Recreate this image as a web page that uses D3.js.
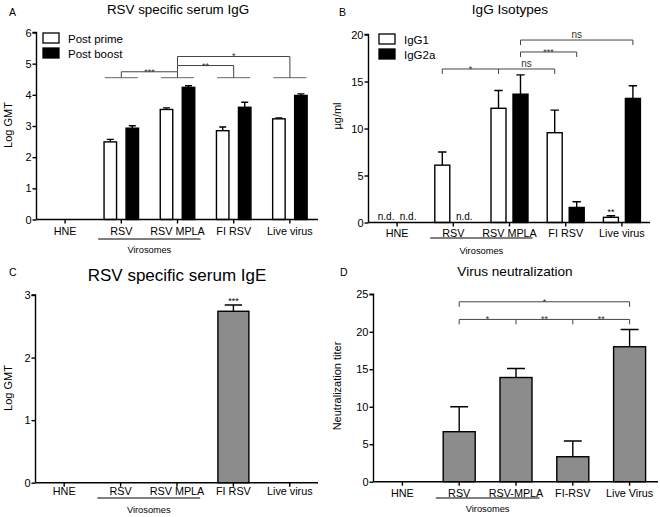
<!DOCTYPE html>
<html>
<head>
<meta charset="utf-8">
<script src="https://cdn.jsdelivr.net/npm/d3@7"></script>
<style>
  body { margin: 0; background: #fff; }
  svg { display: block; font-family: Arial, "Liberation Sans", sans-serif; }
  .domain, .tick line { stroke: #000; stroke-width: 1.4; }
</style>
</head>
<body>
<div id="vis"></div>
<script>
// data
const groups = ["HNE", "RSV", "RSV MPLA", "FI RSV", "Live virus"];
const groupsD = ["HNE", "RSV", "RSV-MPLA", "FI-RSV", "Live Virus"];

// A: log GMT of RSV specific IgG
const postPrime = [0, 2.49, 3.53, 2.85, 3.23];
const postPrimeErr = [0, 0.08, 0.05, 0.12, 0.03];
const postBoost = [0, 2.93, 4.24, 3.6, 3.98];
const postBoostErr = [0, 0.08, 0.05, 0.16, 0.05];

// B: IgG isotypes (ug/ml)
const igg1 = [0, 6.1, 12.15, 9.55, 0.55];
const igg1Err = [0, 1.4, 1.9, 2.4, 0.17];
const igg2a = [0, 0, 13.65, 1.6, 13.2];
const igg2aErr = [0, 0, 2.05, 0.6, 1.35];
const igg1Nd = [true, false, false, false, false];
const igg2aNd = [true, true, false, false, false];

// C: log GMT of IgE
const ige = [0, 0, 0, 2.74, 0];
const igeErr = [0, 0, 0, 0.1, 0];

// D: neutralization titer
const neut = [0, 6.67, 13.9, 3.33, 18.0];
const neutErr = [0, 3.33, 1.2, 2.1, 2.3];

const svg = d3.select("#vis").append("svg")
    .attr("width", 660)
    .attr("height", 517);

function panel(p) {
    const g = svg.append("g");
    const x = d3.scaleBand().domain(p.cats).range([p.x0, p.x1]);
    const y = d3.scaleLinear().domain([0, p.ymax]).range([p.yb, p.yt]);

    // sub-band for grouped bars (centres 22px apart)
    const sub = d3.scaleBand()
        .domain(d3.range(p.series.length))
        .range(p.series.length > 1
            ? [x.bandwidth() / 2 - 11 - p.bw / 2, x.bandwidth() / 2 + 11 + p.bw / 2]
            : [x.bandwidth() / 2 - p.bw / 2, x.bandwidth() / 2 + p.bw / 2])
        .paddingInner(p.series.length > 1 ? (22 - p.bw) / 22 : 0);

    p.series.forEach((s, si) => {
        const cx = (i) => x(p.cats[i]) + sub(si) + sub.bandwidth() / 2;
        // error bars
        g.append("g").selectAll("path")
            .data(s.values.map((v, i) => ({ v, e: s.err[i], i })).filter(d => d.v > 0))
            .join("path")
            .attr("d", d => {
                const c = cx(d.i), hw = sub.bandwidth() * 0.28;
                return `M${c},${y(d.v)}V${y(d.v + d.e)}M${c - hw},${y(d.v + d.e)}H${c + hw}`;
            })
            .attr("stroke", "#000")
            .attr("stroke-width", 1.4)
            .attr("fill", "none");
        g.append("g").selectAll("rect")
            .data(s.values.map((v, i) => ({ v, i })).filter(d => d.v > 0))
            .join("rect")
            .attr("x", d => x(p.cats[d.i]) + sub(si))
            .attr("y", d => y(d.v))
            .attr("width", sub.bandwidth())
            .attr("height", d => y(0) - y(d.v))
            .attr("fill", s.fill)
            .attr("stroke", "#000")
            .attr("stroke-width", 1.4);
        if (s.nd) {
            g.append("g").selectAll("text")
                .data(s.nd.map((v, i) => ({ v, i })).filter(d => d.v))
                .join("text")
                .attr("x", d => cx(d.i))
                .attr("y", p.yb - 3)
                .attr("text-anchor", "middle")
                .attr("font-size", 10)
                .text("n.d.");
        }
    });

    // axes
    g.append("g")
        .attr("transform", `translate(${p.x0 - 0.5},0)`)
        .call(d3.axisLeft(y).tickValues(p.ticks).tickSize(4).tickPadding(1).tickFormat(d3.format("d")))
        .call(a => a.select(".domain").attr("d", `M-4,${p.yt}H0V${p.yb}`))
        .call(a => a.selectAll("text").attr("font-size", 11).attr("fill", "#000"));
    g.append("g")
        .attr("transform", `translate(0,${p.yb})`)
        .call(d3.axisBottom(x).tickSize(4).tickPadding(p.pad))
        .call(a => a.select(".domain").attr("d", `M${p.x0 - 0.5},0H${p.x1}`))
        .call(a => a.selectAll("text").attr("font-size", 10.8).attr("fill", "#000"));

    // virosomes underline
    const vx0 = x(p.cats[1]) + 5, vx1 = x(p.cats[2]) + x.bandwidth() - 5;
    g.append("line")
        .attr("x1", vx0).attr("x2", vx1)
        .attr("y1", p.lineY).attr("y2", p.lineY)
        .attr("stroke", "#000").attr("stroke-width", 1.1);
    g.append("text")
        .attr("x", (vx0 + vx1) / 2)
        .attr("y", p.viroY)
        .attr("text-anchor", "middle")
        .attr("font-size", 9.3)
        .text("Virosomes");

    // titles
    g.append("text")
        .attr("x", p.titleX).attr("y", p.titleY)
        .attr("text-anchor", "middle")
        .attr("font-size", p.titleSize)
        .text(p.title);
    g.append("text")
        .attr("x", p.letterX).attr("y", p.letterY)
        .attr("font-size", 10.5)
        .text(p.letter);
    g.append("text")
        .attr("transform", `translate(${p.ylabX},${p.ylabY}) rotate(-90)`)
        .attr("text-anchor", "middle")
        .attr("font-size", 11)
        .text(p.ylab);

    // legend
    if (p.legend) {
        p.legend.forEach((l, i) => {
            const ly = p.legY + i * 15;
            g.append("rect")
                .attr("x", p.legX).attr("y", ly)
                .attr("width", 16).attr("height", 10)
                .attr("fill", l.fill).attr("stroke", "#000").attr("stroke-width", 1.3);
            g.append("text")
                .attr("x", p.legX + 25).attr("y", ly + 9.5)
                .attr("font-size", 11.5)
                .text(l.label);
        });
    }
    return { g, x, y, sub };
}

function bracketLine(g, d, color) {
    g.append("path").attr("d", d)
        .attr("fill", "none").attr("stroke", color || "#444").attr("stroke-width", 1);
}
function star(g, x, y, t) {
    const ns = t === "ns";
    g.append("text")
        .attr("x", x).attr("y", ns ? y - 2 : y + 3)
        .attr("text-anchor", "middle")
        .attr("font-size", ns ? 10 : 9)
        .attr("fill", "#333")
        .text(t);
}

// ---------- A ----------
const A = panel({
    cats: groups, x0: 37, x1: 318, yb: 219.5, yt: 32.5, ymax: 6, ticks: d3.range(0, 7),
    bw: 12.5, pad: 4, lineY: 239, viroY: 253,
    series: [
        { values: postPrime, err: postPrimeErr, fill: "#fff" },
        { values: postBoost, err: postBoostErr, fill: "#000" }
    ],
    title: "RSV specific serum IgG", titleX: 178, titleY: 14, titleSize: 13.4,
    letter: "A", letterX: 9, letterY: 16,
    ylab: "Log GMT", ylabX: 12, ylabY: 125,
    legend: [{ fill: "#fff", label: "Post prime" }, { fill: "#000", label: "Post boost" }],
    legX: 43, legY: 33
});
{
    const { g, x, y } = A;
    const c = i => x(groups[i]) + x.bandwidth() / 2;
    [1, 2, 3, 4].forEach(i => bracketLine(g, `M${c(i) - 16.5},${y(4.55)}H${c(i) + 16.5}`, "#666"));
    bracketLine(g, `M${c(1)},${y(4.55)}V${y(4.74)}H${c(2)}V${y(4.55)}`);
    star(g, (c(1) + c(2)) / 2, y(4.74), "***");
    bracketLine(g, `M${c(2)},${y(4.74)}V${y(4.94)}H${c(3)}V${y(4.55)}`);
    star(g, (c(2) + c(3)) / 2, y(4.94), "**");
    bracketLine(g, `M${c(2)},${y(4.94)}V${y(5.23)}H${c(4)}V${y(4.55)}`);
    star(g, (c(2) + c(4)) / 2, y(5.23), "*");
}

// ---------- B ----------
const B = panel({
    cats: groups, x0: 369, x1: 650, yb: 222.5, yt: 34.5, ymax: 20, ticks: [0, 5, 10, 15, 20],
    bw: 15, pad: 2.5, lineY: 238, viroY: 254,
    series: [
        { values: igg1, err: igg1Err, fill: "#fff", nd: igg1Nd },
        { values: igg2a, err: igg2aErr, fill: "#000", nd: igg2aNd }
    ],
    title: "IgG Isotypes", titleX: 510, titleY: 14, titleSize: 13.6,
    letter: "B", letterX: 339, letterY: 16,
    ylab: "\u00b5g/ml", ylabX: 341, ylabY: 116,
    legend: [{ fill: "#fff", label: "IgG1" }, { fill: "#000", label: "IgG2a" }],
    legX: 379, legY: 34
});
{
    const { g, x, y, sub } = B;
    const c = (i, s) => x(groups[i]) + sub(s) + sub.bandwidth() / 2;
    const t = 0.53;
    bracketLine(g, `M${c(1, 0)},${y(16.33 - t)}V${y(16.33)}H${c(3, 0)}V${y(16.33 - t)}M${c(2, 0)},${y(16.33)}V${y(16.33 - t)}`);
    star(g, (c(1, 0) + c(2, 0)) / 2, y(16.33), "*");
    star(g, (c(2, 0) + c(3, 0)) / 2, y(16.33), "ns");
    bracketLine(g, `M${c(2, 1)},${y(18.14)}H${c(3, 1)}V${y(18.14 - t)}M${c(2, 1)},${y(18.14)}V${y(18.14 - t)}`);
    star(g, (c(2, 1) + c(3, 1)) / 2, y(18.14), "***");
    bracketLine(g, `M${c(2, 1)},${y(19.41 - t)}V${y(19.41)}H${c(4, 1)}V${y(19.41 - t)}`);
    star(g, (c(2, 1) + c(4, 1)) / 2, y(19.41), "ns");
    // ** above live virus IgG1
    g.append("text")
        .attr("x", c(4, 0)).attr("y", y(igg1[4] + igg1Err[4]) - 1)
        .attr("text-anchor", "middle").attr("font-size", 9).text("**");
}

// ---------- C ----------
const C = panel({
    cats: groups, x0: 36, x1: 318, yb: 482.7, yt: 295, ymax: 3, ticks: [0, 1, 2, 3],
    bw: 31, pad: 1, lineY: 498, viroY: 513,
    series: [{ values: ige, err: igeErr, fill: "#8c8c8c" }],
    title: "RSV specific serum IgE", titleX: 177, titleY: 281, titleSize: 17,
    letter: "C", letterX: 9, letterY: 276,
    ylab: "Log GMT", ylabX: 12, ylabY: 388
});
{
    const { g, x, y } = C;
    g.append("text")
        .attr("x", x(groups[3]) + x.bandwidth() / 2).attr("y", y(ige[3] + igeErr[3]) - 1)
        .attr("text-anchor", "middle").attr("font-size", 9).text("***");
}

// ---------- D ----------
const D = panel({
    cats: groupsD, x0: 374, x1: 658, yb: 481.7, yt: 294.3, ymax: 25, ticks: [0, 5, 10, 15, 20, 25],
    bw: 32, pad: 3.5, lineY: 498, viroY: 512,
    series: [{ values: neut, err: neutErr, fill: "#8c8c8c" }],
    title: "Virus neutralization", titleX: 515, titleY: 276, titleSize: 13.6,
    letter: "D", letterX: 340, letterY: 276,
    ylab: "Neutralization titer", ylabX: 341, ylabY: 386
});
{
    const { g, x, y } = D;
    const c = i => x(groupsD[i]) + x.bandwidth() / 2;
    const t = 0.67;
    bracketLine(g, `M${c(1)},${y(24 - t)}V${y(24)}H${c(4)}V${y(24 - t)}`);
    star(g, (c(1) + c(4)) / 2, y(24), "*");
    bracketLine(g, `M${c(1)},${y(21.65 - t)}V${y(21.65)}H${c(4)}V${y(21.65 - t)}` +
        `M${c(2)},${y(21.65)}V${y(21.65 - t)}M${c(3)},${y(21.65)}V${y(21.65 - t)}`);
    star(g, (c(1) + c(2)) / 2, y(21.65), "*");
    star(g, (c(2) + c(3)) / 2, y(21.65), "**");
    star(g, (c(3) + c(4)) / 2, y(21.65), "**");
}
</script>
</body>
</html>
